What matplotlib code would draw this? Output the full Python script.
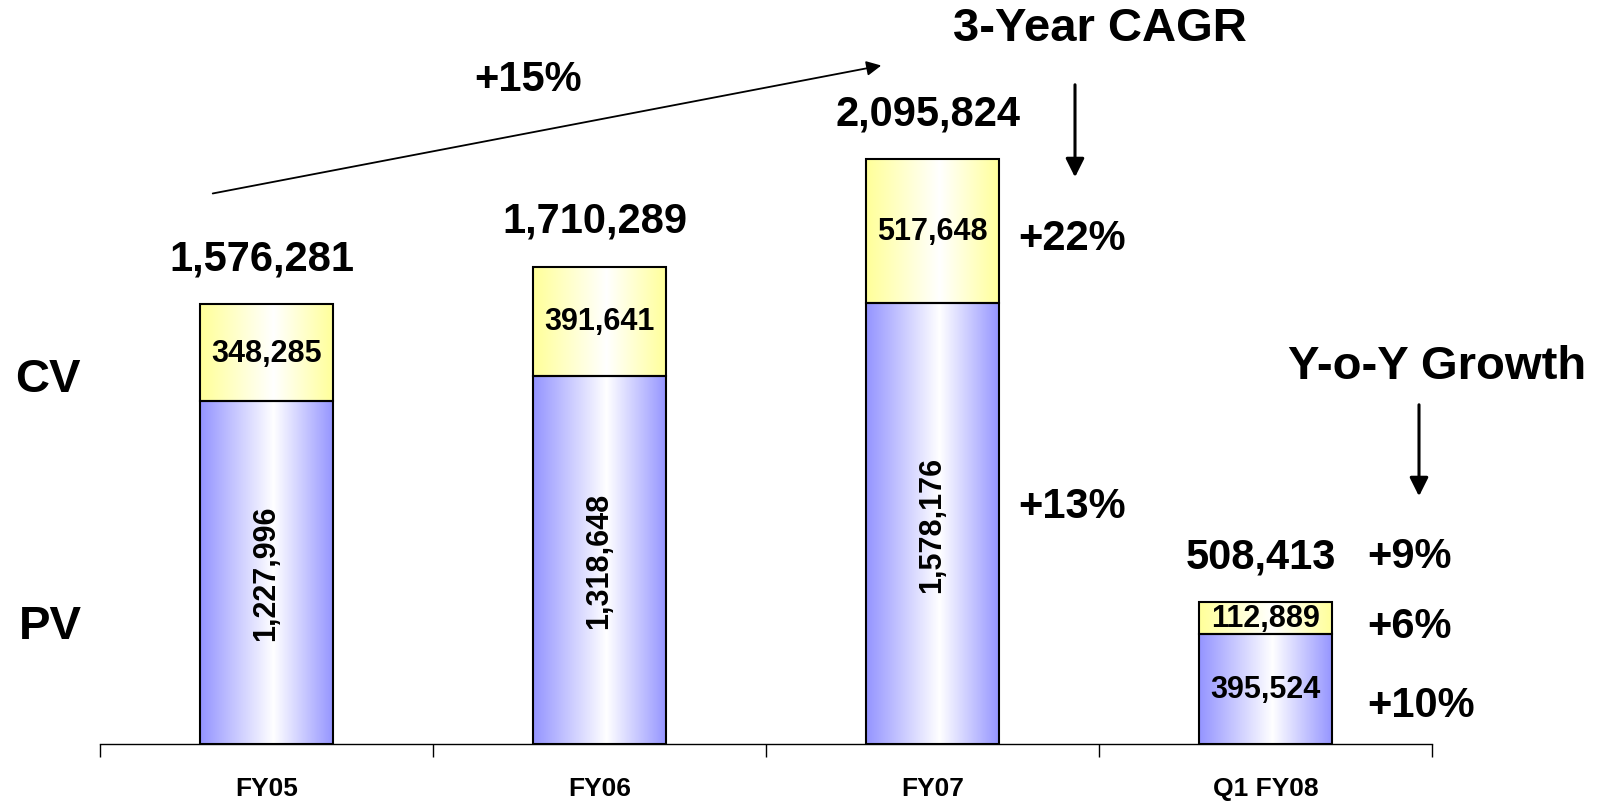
import matplotlib
matplotlib.use("Agg")
import matplotlib.pyplot as plt
import numpy as np
from matplotlib.colors import LinearSegmentedColormap

# Data
categories = ["FY05", "FY06", "FY07", "Q1 FY08"]
pv = [1227996, 1318648, 1578176, 395524]
cv = [348285, 391641, 517648, 112889]
totals = [1576281, 1710289, 2095824, 508413]
growth_fy07 = ["+22%", "+13%"]          # CV, PV  (3-year CAGR)
growth_q1 = ["+9%", "+6%", "+10%"]      # total, CV, PV (y-o-y)
cagr_total = "+15%"

plt.rcParams['font.family'] = ['Liberation Sans', 'DejaVu Sans']
plt.rcParams['font.weight'] = 'bold'

W, H = 1602, 804
fig = plt.figure(figsize=(W / 100, H / 100), dpi=100)

def fx(x):  # pixel -> figure fraction
    return x / W

def fy(y):
    return 1 - y / H

ax = fig.add_axes([fx(100), fy(745), fx(1432) - fx(100), fy(0) - fy(745)])

x = np.arange(len(categories))
bw = 0.40
ymax = 745 * totals[0] / 440.0

blue_cm = LinearSegmentedColormap.from_list("b", [(0, "#9494FF"), (0.55, "#FFFFFF"), (1, "#9494FF")])
yel_cm = LinearSegmentedColormap.from_list("y", [(0, "#FFFF99"), (0.55, "#FFFFFF"), (1, "#FFFF99")])
grad = np.linspace(0, 1, 256).reshape(1, -1)

bars_pv = ax.bar(x, pv, bw, color="none", edgecolor="black", linewidth=1.5, zorder=3)
bars_cv = ax.bar(x, cv, bw, bottom=pv, color="none", edgecolor="black", linewidth=1.5, zorder=3)

# gradient fill clipped to each bar
for bars, cm in [(bars_pv, blue_cm), (bars_cv, yel_cm)]:
    for b in bars:
        x0, y0 = b.get_x(), b.get_y()
        im = ax.imshow(grad, cmap=cm, aspect="auto", zorder=2,
                       extent=[x0, x0 + b.get_width(), y0, y0 + b.get_height()])
        im.set_clip_path(b)

ax.set_xlim(-0.5, len(categories) - 0.5)
ax.set_ylim(0, ymax)

# axis styling
for s in ["top", "right", "left"]:
    ax.spines[s].set_visible(False)
ax.spines["bottom"].set_linewidth(1.0)
ax.set_yticks([])
ax.set_xticks(np.arange(-0.5, len(categories)), minor=False)
ax.set_xticklabels([])
ax.tick_params(axis="x", which="major", length=9, width=1.0, direction="out")
ax.set_xticks(x, minor=True)
ax.set_xticklabels(categories, minor=True, fontsize=19, fontweight="bold")
ax.tick_params(axis="x", which="minor", length=0, pad=23)

# labels inside the bars
for i in range(len(categories)):
    if i < 3:
        ax.text(x[i], pv[i] / 2, f"{pv[i]:,}", rotation=90, ha="center", va="center",
                fontsize=22, fontweight="bold", zorder=4)
    else:
        ax.text(x[i], pv[i] / 2, f"{pv[i]:,}", ha="center", va="center",
                fontsize=22, fontweight="bold", zorder=4)
    ax.text(x[i], pv[i] + cv[i] / 2, f"{cv[i]:,}", ha="center", va="center",
            fontsize=22, fontweight="bold", zorder=4)
    ax.annotate(f"{totals[i]:,}", (x[i], totals[i]), xytext=(-3, 33), textcoords="offset points",
                ha="center", va="center", fontsize=30, fontweight="bold", annotation_clip=False)

# growth figures
fig.text(fx(1018), fy(239), growth_fy07[0], ha="left", va="center", fontsize=30, fontweight="bold")
fig.text(fx(1018), fy(507), growth_fy07[1], ha="left", va="center", fontsize=30, fontweight="bold")
fig.text(fx(1367), fy(557), growth_q1[0], ha="left", va="center", fontsize=30, fontweight="bold")
fig.text(fx(1367), fy(627), growth_q1[1], ha="left", va="center", fontsize=30, fontweight="bold")
fig.text(fx(1367), fy(706), growth_q1[2], ha="left", va="center", fontsize=30, fontweight="bold")

# side labels and headings
fig.text(fx(48), fy(380), "CV", ha="center", va="center", fontsize=34, fontweight="bold")
fig.text(fx(50), fy(627), "PV", ha="center", va="center", fontsize=34, fontweight="bold")
fig.text(fx(1100), fy(29), "3-Year CAGR", ha="center", va="center", fontsize=34, fontweight="bold")
fig.text(fx(1437), fy(367), "Y-o-Y Growth", ha="center", va="center", fontsize=34, fontweight="bold")
fig.text(fx(528), fy(80), cagr_total, ha="center", va="center", fontsize=30, fontweight="bold")

# arrows
arr = dict(arrowstyle="-|>", color="black", lw=1.3, mutation_scale=22)
fig.add_artist(matplotlib.patches.FancyArrowPatch((fx(210), fy(195)), (fx(884), fy(66)),
               transform=fig.transFigure, **arr))
arr2 = dict(arrowstyle="-|>", color="black", lw=2.2, mutation_scale=28)
fig.add_artist(matplotlib.patches.FancyArrowPatch((fx(1075), fy(83)), (fx(1075), fy(181)),
               transform=fig.transFigure, **arr2))
fig.add_artist(matplotlib.patches.FancyArrowPatch((fx(1419), fy(403)), (fx(1419), fy(500)),
               transform=fig.transFigure, **arr2))

fig.savefig("out.png", dpi=100)
